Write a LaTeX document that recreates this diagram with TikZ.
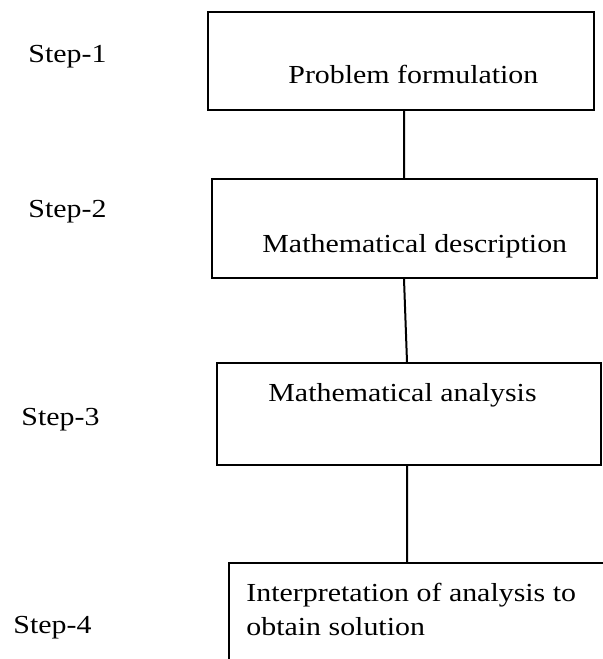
\documentclass[tikz,border=0pt]{standalone}
\usepackage{fontspec}
\setmainfont{Liberation Serif}[FakeStretch=1.15]
\usepackage{tikz}
\usetikzlibrary{positioning}
\tikzset{box/.style={draw, line width=1pt, inner sep=0pt}}
\tikzset{lbl/.style={inner sep=0pt, anchor=base west, font=\fontsize{13pt}{17pt}\selectfont}}

\begin{document}
\begin{tikzpicture}[x=0.5pt, y=-0.5pt]
		\clip (0,0) rectangle (603,659);
		\fill[white] (0,0) rectangle (603,659);
		% boxes
		\node[box, minimum width=193pt, minimum height=49pt] (b1) at (401,61) {};
		\node[box, minimum width=192.5pt, minimum height=49.5pt] (b2) at (404.5,228.5) {};
		\node[box, minimum width=192pt, minimum height=51pt] (b3) at (409,414) {};
		\node[box, minimum width=193pt, minimum height=58.5pt] (b4) at (422,621.5) {};
		\begin{scope}[every node/.append style={lbl}]
			\node (s1) at (28,62) {Step-1};
			\node (s2) at (28,217) {Step-2};
			\node (s3) at (21,425) {Step-3};
			\node (s4) at (13,633) {Step-4};
			\node (t1) at (288,83) {Problem formulation};
			\node (t2) at (262,252) {Mathematical description};
			\node (t3) at (268,401) {Mathematical analysis};
			\node[align=left] (t4) at (246,635) {Interpretation of analysis to\\obtain solution};
		\end{scope}
		\coordinate (j1) at (404,0);
		\coordinate (j2) at (404,0);
		\coordinate (j3) at (407,0);
		\coordinate (j4) at (407,0);

		\draw[line width=1pt] (b1.south -| j1) -- (b2.north -| j1) (b2.south -| j2) -- (b3.north -| j3) (b3.south -| j4) -- (b4.north -| j4);
	\end{tikzpicture}
\end{document}
